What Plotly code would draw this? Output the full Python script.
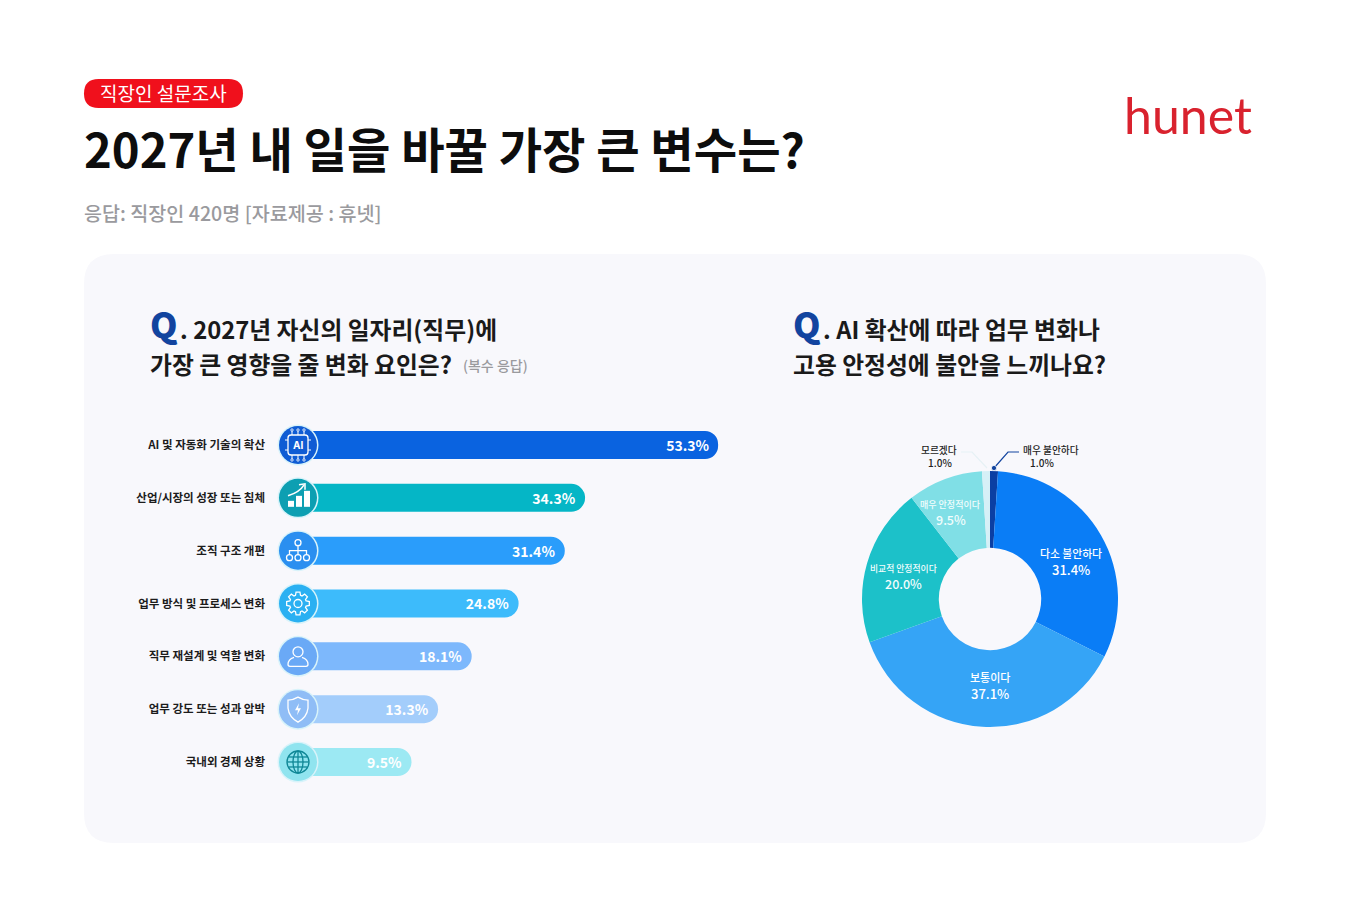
import math
import re
import plotly.graph_objects as go

# dados
bar_labels = ["AI 및 자동화 기술의 확산", "산업/시장의 성장 또는 침체", "조직 구조 개편", "업무 방식 및 프로세스 변화",
              "직무 재설계 및 역할 변화", "업무 강도 또는 성과 압박", "국내외 경제 상황"]
bar_values = [53.3, 34.3, 31.4, 24.8, 18.1, 13.3, 9.5]
bar_colors = ["#0a63e0", "#05b6c6", "#2a9dfb", "#3dbbfb", "#7db8fc", "#a3cdfb", "#9ce9f3"]
icon_colors = ["#0f5cd4", "#0d9fb2", "#2a8ff0", "#2ab0f2", "#6aa9f6", "#8fbdf6", "#90e4ef"]

pie_labels = ["매우 불안하다", "다소 불안하다", "보통이다", "비교적 안정적이다", "매우 안정적이다", "모르겠다"]
pie_values = [1.0, 31.4, 37.1, 20.0, 9.5, 1.0]
pie_colors = ["#0b3fa3", "#0a7df6", "#35a4f6", "#1cc1c9", "#80dfe6", "#d6f0f7"]

W, H = 1350, 900
KR = "Noto Sans CJK KR"


def X(v):
    return v / W


def Y(v):
    return 1 - v / H


# caminho em pixels -> coordenadas paper
def path(s):
    nums = iter(range(10000))

    def conv(m):
        v = float(m.group())
        return f"{X(v):.5f}" if next(nums) % 2 == 0 else f"{Y(v):.5f}"

    return re.sub(r"-?\d+\.?\d*", conv, s)


shapes = []


def add_path(s, fill=None, line=None, width=1.3, layer="above"):
    shapes.append(dict(type="path", xref="paper", yref="paper", path=path(s), layer=layer,
                       fillcolor=fill or "rgba(0,0,0,0)",
                       line=dict(color=line or "rgba(0,0,0,0)", width=width if line else 0)))


def add_circle(cx, cy, r, fill=None, line=None, width=1.3):
    shapes.append(dict(type="circle", xref="paper", yref="paper", x0=X(cx - r), x1=X(cx + r),
                       y0=Y(cy + r), y1=Y(cy - r), fillcolor=fill or "rgba(0,0,0,0)",
                       line=dict(color=line or "rgba(0,0,0,0)", width=width if line else 0)))


def round_rect(x0, y0, x1, y1, r):
    return (f"M {x0 + r} {y0} L {x1 - r} {y0} Q {x1} {y0} {x1} {y0 + r} L {x1} {y1 - r} Q {x1} {y1} {x1 - r} {y1} "
            f"L {x0 + r} {y1} Q {x0} {y1} {x0} {y1 - r} L {x0} {y0 + r} Q {x0} {y0} {x0 + r} {y0} Z")


# fundo do painel e etiqueta vermelha
add_path(round_rect(84, 254, 1266, 843, 30), fill="#f8f8fc", layer="below")
add_path(round_rect(84, 79, 243, 108, 14.5), fill="#f0101c", layer="below")

annotations = []


def text(x, y, s, size, color="#111111", anchor="left", weight=400, family=KR):
    # o texto da anotação tem 2px de folga à esquerda
    if anchor == "left":
        x -= 2
    annotations.append(dict(x=X(x), y=Y(y), xref="paper", yref="paper", text=s, showarrow=False,
                            xanchor=anchor, yanchor="middle", align=anchor,
                            font=dict(family=family, size=size, color=color, weight=weight)))


text(163.5, 93, "직장인 설문조사", 19, "#ffffff", "center", 400)
text(84, 148, "2027년 내 일을 바꿀 가장 큰 변수는?", 47.2, "#0d0d0d", weight=700)
text(84, 212.5, "응답: 직장인 420명 [자료제공 : 휴넷]", 19.6, "#9a9a9e", weight=500)
text(1187.5, 115, "hunet", 50, "#d9222e", "center", 400, "Lato")

text(150, 323, "Q", 35, "#12449f", weight=900)
text(180, 328.5, ". 2027년 자신의 일자리(직무)에", 23.8, "#1a1a1a", weight=700)
text(150, 364, "가장 큰 영향을 줄 변화 요인은?", 23.8, "#1a1a1a", weight=700)
text(463, 365, "(복수 응답)", 14, "#9a9a9e", weight=500)
text(793, 323, "Q", 35, "#12449f", weight=900)
text(823, 328.5, ". AI 확산에 따라 업무 변화나", 23.8, "#1a1a1a", weight=700)
text(793, 364, "고용 안정성에 불안을 느끼나요?", 23.8, "#1a1a1a", weight=700)

# posições em pixels da escala das barras e dos ícones
bar_zero_px, px_per_unit = 345, 7.0
bar_left_px, bar_right_px = 290, 760
row_first, row_step, bar_height = 445, 52.83, 28
icon_x = 298
bar_start = -6.7

for i, col in enumerate(icon_colors):
    cy = row_first + i * row_step
    add_circle(icon_x, cy, 20.5, "#d8f3fa")
    add_circle(icon_x, cy, 19, col)

WHITE = "#ffffff"
# 0 - chip AI
cy = row_first
add_path(round_rect(icon_x - 10, cy - 10, icon_x + 10, cy + 10, 3), line=WHITE)
for d in (-6, 0, 6):
    add_path(f"M {icon_x + d} {cy - 10} L {icon_x + d} {cy - 14}", line=WHITE, width=1)
    add_path(f"M {icon_x + d} {cy + 10} L {icon_x + d} {cy + 14}", line=WHITE, width=1)
    add_circle(icon_x + d, cy - 15, 1.2, line=WHITE, width=0.8)
    add_circle(icon_x + d, cy + 15, 1.2, line=WHITE, width=0.8)
for d in (-5, 5):
    add_path(f"M {icon_x - 10} {cy + d} L {icon_x - 13} {cy + d}", line=WHITE, width=1)
    add_path(f"M {icon_x + 10} {cy + d} L {icon_x + 13} {cy + d}", line=WHITE, width=1)
text(icon_x, cy, "AI", 10, WHITE, "center", 700, "Inter")

# 1 - barras com seta
cy = row_first + row_step
for dx, top in ((-10, 3), (-2, -2), (6, -7)):
    add_path(f"M {icon_x + dx} {cy + 9} L {icon_x + dx} {cy + top} L {icon_x + dx + 6} {cy + top} "
             f"L {icon_x + dx + 6} {cy + 9} Z", fill=WHITE)
add_path(f"M {icon_x - 10} {cy - 2} Q {icon_x + 2} {cy - 6} {icon_x + 6} {cy - 13}", line=WHITE, width=1.5)
add_path(f"M {icon_x + 1} {cy - 13} L {icon_x + 7} {cy - 14} L {icon_x + 7} {cy - 8}", line=WHITE, width=1.5)

# 2 - organograma
cy = row_first + 2 * row_step
add_circle(icon_x, cy - 8, 3, line=WHITE)
for dx in (-8.5, 0, 8.5):
    add_circle(icon_x + dx, cy + 7, 3, line=WHITE)
add_path(f"M {icon_x} {cy - 5} L {icon_x} {cy + 4}", line=WHITE)
add_path(f"M {icon_x - 8.5} {cy + 4} L {icon_x - 8.5} {cy} L {icon_x + 8.5} {cy} L {icon_x + 8.5} {cy + 4}", line=WHITE)

# 3 - engrenagem
cy = row_first + 3 * row_step
pts = []
for k in range(8):
    a = k * math.pi / 4
    for da, r in ((-0.30, 8.5), (-0.17, 11.5), (0.17, 11.5), (0.30, 8.5)):
        pts.append((icon_x + r * math.cos(a + da), cy + r * math.sin(a + da)))
add_path("M " + " L ".join(f"{a:.2f} {b:.2f}" for a, b in pts) + " Z", line=WHITE)
add_circle(icon_x, cy, 4, line=WHITE)

# 4 - pessoa
cy = row_first + 4 * row_step
add_circle(icon_x, cy - 4.5, 5, line=WHITE)
add_path(f"M {icon_x - 4} {cy + 1} Q {icon_x - 10} {cy + 3} {icon_x - 10} {cy + 8} Q {icon_x - 10} {cy + 10} "
         f"{icon_x - 8} {cy + 10} L {icon_x + 8} {cy + 10} Q {icon_x + 10} {cy + 10} {icon_x + 10} {cy + 8} "
         f"Q {icon_x + 10} {cy + 3} {icon_x + 4} {cy + 1}", line=WHITE)

# 5 - escudo com raio
cy = row_first + 5 * row_step
add_path(f"M {icon_x} {cy - 12} Q {icon_x + 5} {cy - 9} {icon_x + 10} {cy - 9} L {icon_x + 10} {cy - 1} "
         f"Q {icon_x + 9} {cy + 8} {icon_x} {cy + 13} Q {icon_x - 9} {cy + 8} {icon_x - 10} {cy - 1} "
         f"L {icon_x - 10} {cy - 9} Q {icon_x - 5} {cy - 9} {icon_x} {cy - 12} Z", line=WHITE)
add_path(f"M {icon_x + 1} {cy - 6} L {icon_x - 3} {cy + 1} L {icon_x} {cy + 1} L {icon_x - 1} {cy + 6} "
         f"L {icon_x + 3} {cy - 1} L {icon_x} {cy - 1} Z", fill=WHITE)

# 6 - globo
cy = row_first + 6 * row_step
TEAL = "#0f8796"
add_circle(icon_x, cy, 11, line=TEAL)
shapes.append(dict(type="circle", xref="paper", yref="paper", x0=X(icon_x - 5), x1=X(icon_x + 5),
                   y0=Y(cy + 11), y1=Y(cy - 11), line=dict(color=TEAL, width=1.3)))
add_path(f"M {icon_x} {cy - 11} L {icon_x} {cy + 11}", line=TEAL)
add_path(f"M {icon_x - 11} {cy} L {icon_x + 11} {cy}", line=TEAL)
add_path(f"M {icon_x - 9.5} {cy - 5} L {icon_x + 9.5} {cy - 5}", line=TEAL)
add_path(f"M {icon_x - 9.5} {cy + 5} L {icon_x + 9.5} {cy + 5}", line=TEAL)

# linhas de chamada da rosca
add_path("M 987 468 L 972 452 L 961 452", line="#e6f1f5", width=1.2)
add_path("M 994 468 L 1008 452 L 1019 452", line="#12449f", width=1.2)
add_circle(994, 468, 2.6, fill="#12449f", line="#ffffff", width=0.8)

# rótulos da rosca
pie_text_pos = [(1051, 449.5, 1042, 462), (1071, 553, 1071, 569), (990, 677, 990, 693),
                (903, 568.5, 903, 583), (950, 504, 951, 519), (939, 449.5, 940, 462)]
pie_text_col = ["#222222", "#ffffff", "#ffffff", "#f2fdfd", "#f2fdfd", "#222222"]
pie_name_size = [9.7, 10.8, 11, 8.8, 9, 9.7]
pie_val_size = [10, 13, 13, 12.5, 12.5, 10]
for i, lab in enumerate(pie_labels):
    nx, ny, vx, vy = pie_text_pos[i]
    text(nx, ny, lab, pie_name_size[i], pie_text_col[i], "center", 500)
    text(vx, vy, f"{pie_values[i]:.1f}%", pie_val_size[i], pie_text_col[i], "center", 500)

fig = go.Figure()
fig.add_trace(go.Bar(
    y=bar_labels, x=[v - bar_start for v in bar_values], base=bar_start, orientation="h",
    marker=dict(color=bar_colors, cornerradius=14, line=dict(width=0)),
    text=[f"{v:.1f}%" for v in bar_values], textposition="inside", insidetextanchor="end",
    textangle=0, constraintext="none",
    textfont=dict(family=KR, size=14, color="#ffffff", weight=700),
    cliponaxis=False, hoverinfo="skip", showlegend=False,
))
fig.add_trace(go.Pie(
    labels=pie_labels, values=pie_values, sort=False, direction="clockwise", rotation=0, hole=0.4,
    marker=dict(colors=pie_colors, line=dict(width=0)), textinfo="none", showlegend=False, hoverinfo="skip",
    domain=dict(x=[X(862), X(1118)], y=[Y(727), Y(471)]),
))

fig.update_layout(
    width=W, height=H, margin=dict(l=0, r=0, t=0, b=0), paper_bgcolor="#ffffff", plot_bgcolor="rgba(0,0,0,0)",
    bargap=1 - bar_height / row_step, shapes=shapes, annotations=annotations,
    xaxis=dict(domain=[X(bar_left_px), X(bar_right_px)], visible=False, fixedrange=True,
               range=[(bar_left_px - bar_zero_px) / px_per_unit, (bar_right_px - bar_zero_px) / px_per_unit]),
    yaxis=dict(domain=[Y(row_first + 6.5 * row_step), Y(row_first - 0.5 * row_step)], autorange="reversed",
               showline=False, showgrid=False, zeroline=False, ticks="", ticklabelstandoff=24,
               tickfont=dict(family=KR, size=11.5, color="#1c1c1c", weight=700), automargin=False),
)

fig.write_html("out.html", config=dict(displayModeBar=False), post_script="document.body.style.margin='0';")
